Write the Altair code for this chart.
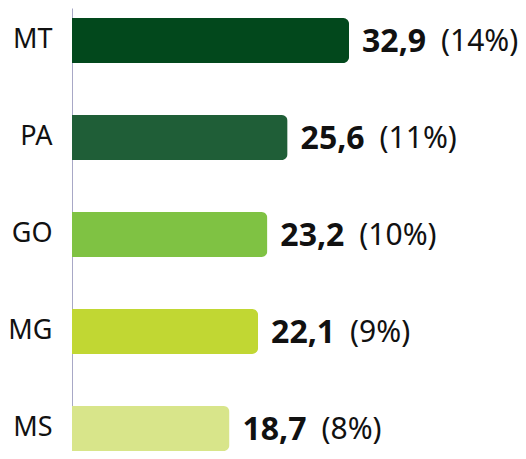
import altair as alt
import pandas as pd

states = ["MT", "PA", "GO", "MG", "MS"]
values = [32.9, 25.6, 23.2, 22.1, 18.7]
shares = [14, 11, 10, 9, 8]
colors = ["#02481c", "#1f5e37", "#7fc243", "#c1d733", "#d8e58a"]

df = pd.DataFrame({
    "state": states,
    "value": values,
    "share": shares,
    "color": colors,
})
df["vlabel"] = [f"{v:.1f}".replace(".", ",") for v in values]
df["plabel"] = [f"({s}%)" for s in shares]

FONT = "Noto Sans"

y_enc = alt.Y(
    "state:N",
    sort=states,
    title=None,
    scale=alt.Scale(paddingInner=0.536, paddingOuter=0.0515, align=1),
    axis=alt.Axis(
        ticks=False,
        labelFontSize=27,
        labelFont=FONT,
        labelColor="#111111",
        labelPadding=20,
        domainColor="#a8a8c6",
        domainWidth=1,
        grid=False,
    ),
)
x_enc = alt.X("value:Q", scale=alt.Scale(domain=[0, 52.25]), axis=None)

base = alt.Chart(df).encode(y=y_enc, x=x_enc)

bars = base.mark_bar(cornerRadiusTopRight=6, cornerRadiusBottomRight=6).encode(
    color=alt.Color("color:N", scale=None)
)

vtext = base.mark_text(
    align="left", baseline="middle", dx=13, dy=2, fontSize=32,
    fontWeight="bold", font=FONT, color="#111111"
).encode(text="vlabel:N")

ptext = base.mark_text(
    align="left", baseline="middle", dx=92, dy=2, fontSize=30,
    font=FONT, color="#111111"
).encode(text="plabel:N")

chart = (bars + vtext + ptext).properties(
    width=440,
    height=443,
    padding={"left": 64, "top": 0, "right": 6, "bottom": 0},
    autosize=alt.AutoSizeParams(type="none"),
).configure_view(stroke=None)

chart.save("out.html", embed_options={"renderer": "svg", "actions": False})
